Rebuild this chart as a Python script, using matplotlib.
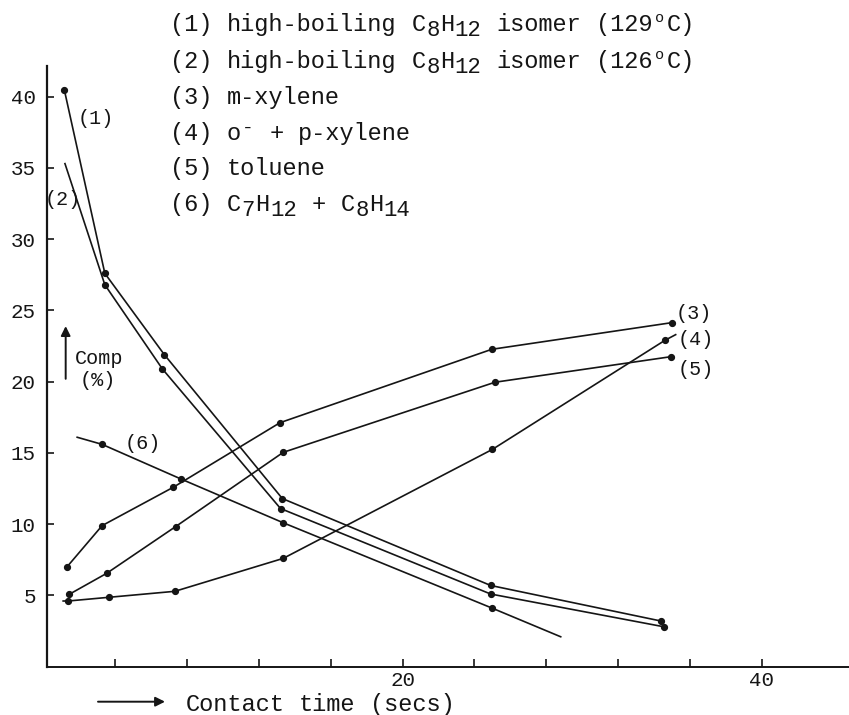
import matplotlib
matplotlib.use("Agg")
import matplotlib.pyplot as plt
from matplotlib.ticker import FixedLocator
from matplotlib.patches import FancyArrowPatch

# ---------------- data ----------------
x1 = [1.16, 3.42, 6.73, 13.3, 24.9, 34.4]
y1 = [40.5, 27.6, 21.9, 11.8, 5.7, 3.2]

x2 = [1.2, 3.42, 6.62, 13.2, 24.9, 34.55]
y2 = [35.3, 26.8, 20.9, 11.1, 5.1, 2.8]

x3 = [1.29, 3.27, 7.23, 13.17, 24.96, 34.98]
y3 = [6.97, 9.9, 12.59, 17.12, 22.27, 24.14]

x4 = [1.1, 1.38, 3.65, 7.32, 13.35, 25.0, 34.6, 35.2]
y4 = [4.61, 4.61, 4.87, 5.29, 7.6, 15.25, 22.9, 23.3]

x5 = [1.44, 3.52, 7.36, 13.35, 25.14, 34.92]
y5 = [5.08, 6.55, 9.83, 15.04, 19.96, 21.75]

x6 = [1.88, 3.27, 7.66, 13.35, 25.0, 28.8]
y6 = [16.1, 15.6, 13.17, 10.1, 4.1, 2.1]

yticks = [5, 10, 15, 20, 25, 30, 35, 40]
xticks_major = [20, 40]
xticks_minor = [4, 8, 12, 16, 24, 28, 32, 36]

legend_lines = [
    "(1) high-boiling C₈H₁₂ isomer (129°C)",
    "(2) high-boiling C₈H₁₂ isomer (126°C)",
    "(3) m-xylene",
    "(4) o⁻ + p-xylene",
    "(5) toluene",
    "(6) C₇H₁₂ + C₈H₁₄",
]
xlabel_text = "Contact time (secs)"

FONT = ["Liberation Mono", "DejaVu Sans Mono"]
INK = "#151515"

W, H = 849, 715
fig = plt.figure(figsize=(W / 100, H / 100), dpi=100)
fig.patch.set_facecolor("white")

ax_left, ax_right = 47, 849
ax_bottom, ax_top = 666.7, 66
ax = fig.add_axes([ax_left / W, 1 - ax_bottom / H,
                   (ax_right - ax_left) / W, (ax_bottom - ax_top) / H])
ax.set_xlim(0.2, 44.85)
ax.set_ylim(0, 42.15)

for s in ["top", "right"]:
    ax.spines[s].set_visible(False)
ax.spines["left"].set_linewidth(1.6)
ax.spines["bottom"].set_linewidth(1.4)
ax.spines["left"].set_color(INK)
ax.spines["bottom"].set_color(INK)

lw = 1.2
ms = 4.2
ax.plot(x1, y1, color=INK, lw=lw, marker="o", ms=ms)
ax.plot(x2, y2, color=INK, lw=lw, marker="o", ms=ms, markevery=[1, 2, 3, 4, 5])
ax.plot(x3, y3, color=INK, lw=lw, marker="o", ms=ms)
ax.plot(x4, y4, color=INK, lw=lw, marker="o", ms=ms, markevery=[1, 2, 3, 4, 5, 6])
ax.plot(x5, y5, color=INK, lw=lw, marker="o", ms=ms)
ax.plot(x6, y6, color=INK, lw=lw, marker="o", ms=ms, markevery=[1, 2, 3, 4])

# ticks
ax.yaxis.set_major_locator(FixedLocator(yticks))
ax.set_yticklabels([str(v) for v in yticks])
ax.xaxis.set_major_locator(FixedLocator(xticks_major))
ax.xaxis.set_minor_locator(FixedLocator(xticks_minor))
ax.set_xticklabels([str(v) for v in xticks_major])
ax.tick_params(axis="y", direction="in", length=5, width=1.2, pad=8,
               labelsize=15, colors=INK)
ax.tick_params(axis="x", which="both", direction="in", length=6, width=1.2,
               pad=3, labelsize=15, colors=INK)
for lab in ax.get_xticklabels() + ax.get_yticklabels():
    lab.set_family(FONT)

# series labels
lab_kw = dict(family=FONT, fontsize=14.5, color=INK, va="center", ha="left")
ax.text(1.92, 38.5, "(1)", **lab_kw)
ax.text(0.08, 32.75, "(2)", clip_on=False, **lab_kw)
ax.text(4.54, 15.63, "(6)", **lab_kw)
ax.text(35.2, 24.8, "(3)", **lab_kw)
ax.text(35.3, 22.93, "(4)", **lab_kw)
ax.text(35.3, 20.87, "(5)", **lab_kw)

# Comp (%) annotation with upward arrow
ax.annotate("", xy=(1.24, 23.9), xytext=(1.24, 20.2),
            arrowprops=dict(arrowstyle="-|>", color=INK, lw=1.4,
                            mutation_scale=14, shrinkA=0, shrinkB=0))
ax.text(1.75, 21.64, "Comp", **lab_kw)
ax.text(2.03, 20.1, "(%)", **lab_kw)

# ---- typewriter-style text: words placed on a fixed character pitch ----
SUB = {"₀": "0", "₁": "1", "₂": "2", "₃": "3", "₄": "4",
       "₅": "5", "₆": "6", "₇": "7", "₈": "8", "₉": "9"}
SUP = {"°": "o", "⁻": "-"}
PITCH = 14.2
MAIN_SIZE = 17


def typed(x0, base, s):
    cells = []
    for ch in s:
        if ch in SUB:
            cells.append((SUB[ch], "sub"))
        elif ch in SUP:
            cells.append((SUP[ch], "sup"))
        else:
            cells.append((ch, "n"))
    i = 0
    while i < len(cells):
        ch, kind = cells[i]
        if ch == " ":
            i += 1
            continue
        j = i
        while j < len(cells) and cells[j][0] != " " and cells[j][1] == kind:
            j += 1
        run = "".join(c for c, _ in cells[i:j])
        cx = x0 + (i + j) / 2 * PITCH
        if kind == "n":
            size, dy = MAIN_SIZE, 0
        elif kind == "sub":
            size, dy = 16, 5
        else:
            size, dy = (11, -9) if run == "o" else (14, -7)
        fig.text(cx / W, 1 - (base + dy) / H, run, family=FONT, fontsize=size,
                 color=INK, ha="center", va="baseline")
        i = j


base_y = [31, 68, 104, 140, 175, 211]
for txt, by in zip(legend_lines, base_y):
    typed(170, by, txt)

# x-axis label with arrow
fig.patches.append(FancyArrowPatch(
    (98 / W, 1 - 701.7 / H), (165 / W, 1 - 701.7 / H),
    transform=fig.transFigure, arrowstyle="-|>", mutation_scale=14,
    color=INK, lw=1.4, shrinkA=0, shrinkB=0))
typed(185, 711, xlabel_text)

fig.savefig("out.png", dpi=100, facecolor="white")
